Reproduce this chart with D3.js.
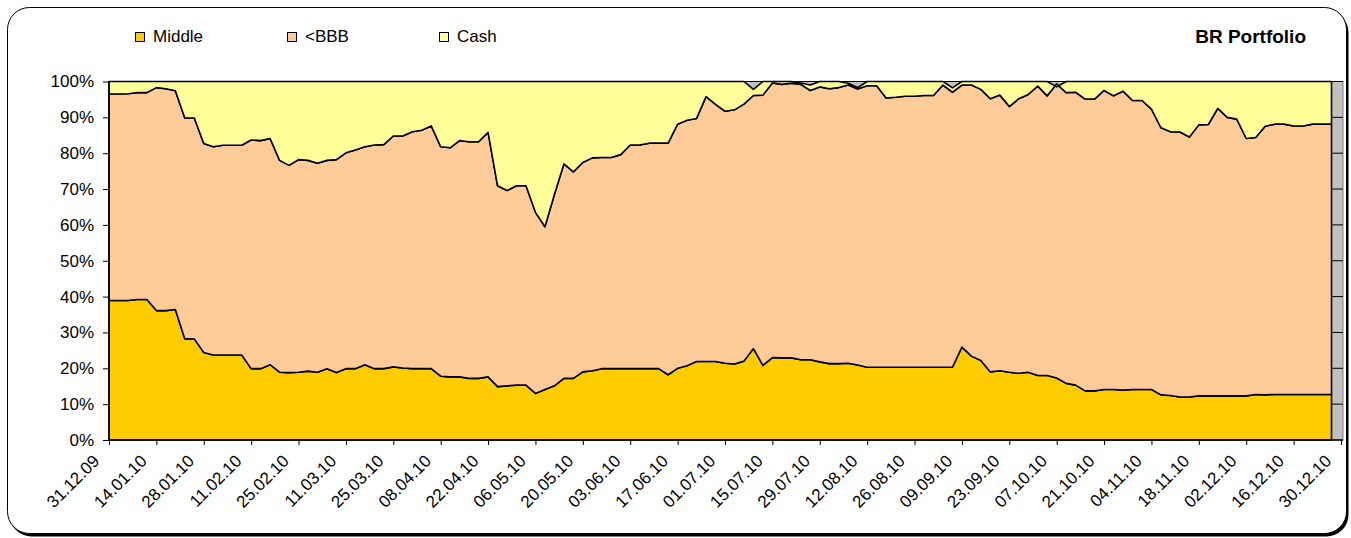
<!DOCTYPE html>
<html>
<head>
<meta charset="utf-8">
<script src="https://cdnjs.cloudflare.com/ajax/libs/d3/7.8.5/d3.min.js"></script>
<style>
    body { margin: 0; background: #fff; }
    svg { display: block; }
    text { font-family: Arial, "Liberation Sans", sans-serif; fill: #000; }
</style>
</head>
<body>
<svg id="chart" width="1351" height="538"></svg>
<script>
// series in stacking order (bottom to top)
var seriesNames = ["Middle", "<BBB", "Cash"];
var seriesColors = ["#FFCC00", "#FFCC99", "#FFFF99"];

// one sample every 2 business days, starting 31.12.09
var sampleStep = 2;

var middle = [
    38.9, 38.9, 38.9, 39.2, 39.2, 36.1, 36.1, 36.4, 28.2, 28.2,
    24.4, 23.7, 23.7, 23.7, 23.7, 19.9, 19.9, 21.0, 18.9, 18.8,
    18.9, 19.2, 18.9, 19.9, 18.8, 19.9, 19.9, 21.0, 19.9, 19.9,
    20.4, 20.1, 19.9, 19.9, 19.9, 17.8, 17.6, 17.6, 17.2, 17.2,
    17.6, 14.9, 15.1, 15.3, 15.3, 13.0, 14.1, 15.1, 17.2, 17.2,
    19.0, 19.3, 19.9, 19.9, 19.9, 19.9, 19.9, 19.9, 19.9, 18.2,
    20.0, 20.7, 21.9, 21.9, 21.9, 21.4, 21.2, 22.0, 25.5, 20.8,
    23.0, 22.9, 22.9, 22.4, 22.4, 21.8, 21.3, 21.3, 21.4, 20.9,
    20.3, 20.3, 20.3, 20.3, 20.3, 20.3, 20.3, 20.3, 20.3, 20.3,
    25.9, 23.4, 22.2, 19.0, 19.3, 18.9, 18.6, 18.9, 18.0, 18.0,
    17.3, 15.8, 15.3, 13.7, 13.7, 14.1, 14.1, 13.9, 14.1, 14.1,
    14.1, 12.6, 12.4, 12.0, 12.0, 12.3, 12.3, 12.3, 12.3, 12.3,
    12.3, 12.7, 12.6, 12.7, 12.7, 12.7, 12.7, 12.7, 12.7, 12.7
];

var belowBBB = [
    57.6, 57.6, 57.7, 57.7, 57.7, 62.2, 61.9, 61.0, 61.6, 61.6,
    58.3, 58.1, 58.5, 58.5, 58.5, 63.8, 63.6, 63.1, 59.1, 57.8,
    59.3, 58.8, 58.3, 58.1, 59.4, 60.2, 61.0, 60.8, 62.4, 62.5,
    64.4, 64.7, 66.1, 66.5, 67.7, 64.0, 63.9, 65.9, 66.0, 66.0,
    68.2, 56.0, 54.5, 55.6, 55.6, 50.5, 45.4, 53.4, 59.8, 57.6,
    58.4, 59.4, 58.9, 58.9, 59.7, 62.4, 62.4, 62.9, 62.9, 64.6,
    68.1, 68.5, 67.8, 73.9, 71.7, 70.3, 70.9, 71.7, 70.6, 75.4,
    76.6, 76.3, 76.6, 76.8, 75.1, 76.7, 76.7, 77.0, 77.6, 77.0,
    78.5, 78.5, 75.1, 75.3, 75.6, 75.6, 75.8, 75.8, 78.7, 76.7,
    73.1, 75.6, 75.6, 76.2, 76.9, 74.1, 76.6, 77.5, 80.7, 78.0,
    82.0, 81.1, 81.7, 81.4, 81.4, 83.4, 81.9, 83.4, 80.6, 80.6,
    78.2, 74.5, 73.6, 73.9, 72.5, 75.6, 75.7, 80.2, 77.7, 77.2,
    71.8, 71.7, 74.9, 75.4, 75.4, 74.9, 74.9, 75.4, 75.4, 75.4
];

var cash = [
    3.5, 3.5, 3.4, 3.1, 3.1, 1.7, 2.0, 2.6, 10.2, 10.2,
    17.3, 18.2, 17.8, 17.8, 17.8, 16.3, 16.5, 15.9, 22.0, 23.4,
    21.8, 22.0, 22.8, 22.0, 21.8, 19.9, 19.1, 18.2, 17.7, 17.6,
    15.2, 15.2, 14.0, 13.6, 12.4, 18.2, 18.5, 16.5, 16.8, 16.8,
    14.2, 29.1, 30.4, 29.1, 29.1, 36.5, 40.5, 31.5, 23.0, 25.2,
    22.6, 21.3, 21.2, 21.2, 20.4, 17.7, 17.7, 17.2, 17.2, 17.2,
    11.9, 10.8, 10.3, 4.2, 6.4, 8.3, 7.9, 6.3, 1.7, 3.8,
    0.4, 0.8, 0.5, 0.4, 1.5, 1.5, 2.0, 1.7, 0.5, 0.4,
    1.2, 1.2, 4.6, 4.4, 4.1, 4.1, 3.9, 3.9, 1.0, 1.2,
    1.0, 1.0, 2.2, 4.8, 3.8, 7.0, 4.8, 3.6, 1.3, 4.0,
    -0.8, 3.1, 3.0, 4.9, 4.9, 2.5, 4.0, 2.7, 5.3, 5.3,
    7.7, 12.9, 14.0, 14.1, 15.5, 12.1, 12.0, 7.5, 10.0, 10.5,
    15.9, 15.6, 12.5, 11.9, 11.9, 12.4, 12.4, 11.9, 11.9, 11.9
];

// labelled every 10 business days
var tickLabels = [
    "31.12.09", "14.01.10", "28.01.10", "11.02.10", "25.02.10", "11.03.10",
    "25.03.10", "08.04.10", "22.04.10", "06.05.10", "20.05.10", "03.06.10",
    "17.06.10", "01.07.10", "15.07.10", "29.07.10", "12.08.10", "26.08.10",
    "09.09.10", "23.09.10", "07.10.10", "21.10.10", "04.11.10", "18.11.10",
    "02.12.10", "16.12.10", "30.12.10"
];
var tickStep = 10;

var yTicks = [0, 10, 20, 30, 40, 50, 60, 70, 80, 90, 100];

var title = "BR Portfolio";

function drawChart() {
    var svg = d3.select("#chart");

    var plotLeft = 109, plotRight = 1343, plotTop = 81.5, plotBottom = 440;
    var lastTickDay = (tickLabels.length - 1) * tickStep;

    var x = d3.scaleLinear().domain([0, lastTickDay]).range([plotLeft, 1341]);
    var y = d3.scaleLinear().domain([0, 100]).range([plotBottom, plotTop]);

    // chart frame with shadow
    svg.append("rect")
        .attr("x", 9.5).attr("y", 10.5)
        .attr("width", 1339).attr("height", 526)
        .attr("rx", 22).attr("ry", 22)
        .attr("fill", "#000");
    svg.append("rect")
        .attr("x", 7.5).attr("y", 7.5)
        .attr("width", 1339).attr("height", 526)
        .attr("rx", 22).attr("ry", 22)
        .attr("fill", "#fff")
        .attr("stroke", "#000")
        .attr("stroke-width", 1);

    // plot area background
    svg.append("rect")
        .attr("x", plotLeft).attr("y", plotTop)
        .attr("width", plotRight - plotLeft).attr("height", plotBottom - plotTop)
        .attr("fill", "#C0C0C0")
        .attr("stroke", "#808080");

    // gridlines sit under the areas
    svg.append("g")
        .selectAll("line")
        .data(yTicks.slice(1))
        .join("line")
        .attr("x1", plotLeft).attr("x2", plotRight)
        .attr("y1", function (d) { return y(d); })
        .attr("y2", function (d) { return y(d); })
        .attr("stroke", "#000")
        .attr("stroke-width", 1);

    var rows = middle.map(function (v, i) {
        var row = { day: i * sampleStep };
        row[seriesNames[0]] = v;
        row[seriesNames[1]] = belowBBB[i];
        row[seriesNames[2]] = cash[i];
        return row;
    });

    var stacked = d3.stack().keys(seriesNames)(rows);

    var area = d3.area()
        .x(function (d) { return x(d.data.day); })
        .y0(function (d) { return y(d[0]); })
        .y1(function (d) { return y(d[1]); });

    svg.append("g")
        .selectAll("path")
        .data(stacked)
        .join("path")
        .attr("d", area)
        .attr("fill", function (d, i) { return seriesColors[i]; })
        .attr("stroke", "#000")
        .attr("stroke-width", 1.6)
        .attr("stroke-linejoin", "round");

    // y axis
    var yAxis = d3.axisLeft(y)
        .tickValues(yTicks)
        .tickFormat(function (d) { return d + "%"; })
        .tickSize(6)
        .tickSizeOuter(0)
        .tickPadding(9);

    var yg = svg.append("g")
        .attr("transform", "translate(" + plotLeft + ",0)")
        .call(yAxis);
    yg.select(".domain").remove();
    yg.selectAll("text")
        .attr("font-size", 17)
        .attr("font-family", "Arial, 'Liberation Sans', sans-serif");
    yg.selectAll("line").attr("stroke", "#000");

    // x axis
    var xAxis = d3.axisBottom(x)
        .tickValues(d3.range(0, lastTickDay + 1, tickStep))
        .tickFormat(function (d, i) { return tickLabels[i]; })
        .tickSize(5)
        .tickSizeOuter(0);

    var xg = svg.append("g")
        .attr("transform", "translate(0," + plotBottom + ")")
        .call(xAxis);
    xg.select(".domain").remove();
    xg.selectAll("line").attr("stroke", "#000");
    xg.selectAll("text")
        .attr("font-size", 17)
        .attr("font-family", "Arial, 'Liberation Sans', sans-serif")
        .attr("text-anchor", "end")
        .attr("x", 0).attr("y", 0).attr("dy", 0)
        .attr("transform", "translate(-9,22) rotate(-45)");

    // axis lines
    svg.append("line")
        .attr("x1", plotLeft).attr("x2", plotLeft)
        .attr("y1", plotTop).attr("y2", plotBottom)
        .attr("stroke", "#000").attr("stroke-width", 1.5);
    svg.append("line")
        .attr("x1", plotLeft).attr("x2", plotRight)
        .attr("y1", plotBottom).attr("y2", plotBottom)
        .attr("stroke", "#000").attr("stroke-width", 1.5);

    // legend
    var legend = svg.append("g")
        .selectAll("g")
        .data(seriesNames)
        .join("g")
        .attr("transform", function (d, i) { return "translate(" + (135 + i * 152) + ",32)"; });
    legend.append("rect")
        .attr("x", 0.5).attr("y", 0.5)
        .attr("width", 9).attr("height", 9)
        .attr("fill", function (d, i) { return seriesColors[i]; })
        .attr("stroke", "#000");
    legend.append("text")
        .attr("x", 18).attr("y", 10)
        .attr("font-size", 17)
        .text(function (d) { return d; });

    svg.append("text")
        .attr("x", 1306).attr("y", 43)
        .attr("text-anchor", "end")
        .attr("font-size", 19)
        .attr("font-weight", "bold")
        .text(title);
}

drawChart();
</script>
</body>
</html>
